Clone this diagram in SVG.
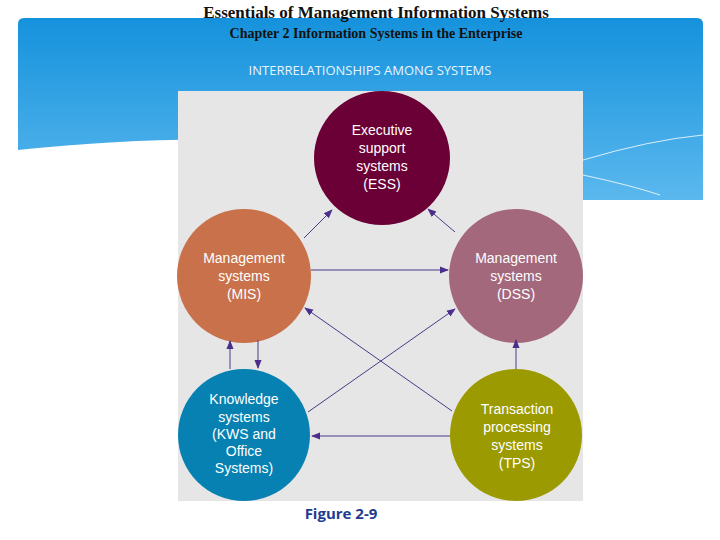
<svg xmlns="http://www.w3.org/2000/svg" width="720" height="540" viewBox="0 0 720 540">
<defs>
<linearGradient id="bg" x1="0" y1="0" x2="0" y2="1"><stop offset="0" stop-color="#1592dc"/><stop offset="1" stop-color="#5bb8ee"/></linearGradient>
<marker id="ah" viewBox="0 0 10 10" refX="9" refY="5" markerWidth="9" markerHeight="9" markerUnits="userSpaceOnUse" orient="auto"><path d="M0,1 L10,5 L0,9 z" fill="#4b2f8c"/></marker>
<style>
.c{stroke:#4b3a86;stroke-width:1;fill:none;marker-end:url(#ah)}
.t{font-family:"Liberation Sans",Arial,sans-serif;font-size:14px;fill:#fff;text-anchor:middle}
.h{font-family:"Liberation Serif","Times New Roman",serif;font-weight:bold;text-anchor:middle;fill:#111}
</style>
</defs>
<rect width="720" height="540" fill="#fff"/>
<path d="M24,18 H697 Q703,18 703,24 V200 L583,200 Q560,180 470,175 Q300,120 18,150 V24 Q18,18 24,18 Z" fill="url(#bg)"/>
<path d="M583,160 Q650,140 703,135" stroke="#fff" stroke-width="1" fill="none" opacity="0.8"/>
<path d="M583,175 Q630,185 660,195" stroke="#fff" stroke-width="1" fill="none" opacity="0.8"/>
<text class="h" x="376" y="18" font-size="17">Essentials of Management Information Systems</text>
<text class="h" x="376" y="38" font-size="14" font-weight="normal">Chapter 2 Information Systems in the Enterprise</text>
<text x="370" y="75" font-family="'Open Sans',sans-serif" font-size="13" fill="#e8f4ff" text-anchor="middle">INTERRELATIONSHIPS AMONG SYSTEMS</text>
<rect x="178" y="91" width="405" height="410" fill="#e6e6e6"/>
<g id="ess"><ellipse cx="382" cy="158" rx="68" ry="67" fill="#6a0036"/><text class="t" x="382" y="135">Executive</text><text class="t" x="382" y="153">support</text><text class="t" x="382" y="171">systems</text><text class="t" x="382" y="189">(ESS)</text></g>
<g id="mis"><circle cx="244" cy="276" r="67" fill="#c8714a"/><text class="t" x="244" y="263">Management</text><text class="t" x="244" y="281">systems</text><text class="t" x="244" y="299">(MIS)</text></g>
<g id="dss"><circle cx="516" cy="276" r="67" fill="#a3687c"/><text class="t" x="516" y="263">Management</text><text class="t" x="516" y="281">systems</text><text class="t" x="516" y="299">(DSS)</text></g>
<g id="kws"><circle cx="244" cy="435" r="66" fill="#0681b2"/><text class="t" x="244" y="404">Knowledge</text><text class="t" x="244" y="422">systems</text><text class="t" x="244" y="439">(KWS and</text><text class="t" x="244" y="456">Office</text><text class="t" x="244" y="473">Systems)</text></g>
<g id="tps"><circle cx="516" cy="435" r="66" fill="#9b9a00"/><text class="t" x="517" y="414">Transaction</text><text class="t" x="517" y="432">processing</text><text class="t" x="517" y="450">systems</text><text class="t" x="517" y="468">(TPS)</text></g>
<g id="connectors">
<line class="c" x1="304" y1="238" x2="332" y2="210"/>
<line class="c" x1="455" y1="232" x2="428" y2="209"/>
<line class="c" x1="311" y1="270" x2="448" y2="270"/>
<line class="c" x1="230" y1="369" x2="230" y2="341"/>
<line class="c" x1="258" y1="340" x2="258" y2="368"/>
<line class="c" x1="516" y1="369" x2="516" y2="340"/>
<line class="c" x1="452" y1="411" x2="305" y2="308"/>
<line class="c" x1="308" y1="412" x2="455" y2="309"/>
<line class="c" x1="450" y1="436" x2="312" y2="436"/>
</g>
<text x="341" y="519" font-family="'Open Sans',sans-serif" font-weight="bold" font-size="15" fill="#1f3b8f" text-anchor="middle">Figure 2-9</text>
</svg>
